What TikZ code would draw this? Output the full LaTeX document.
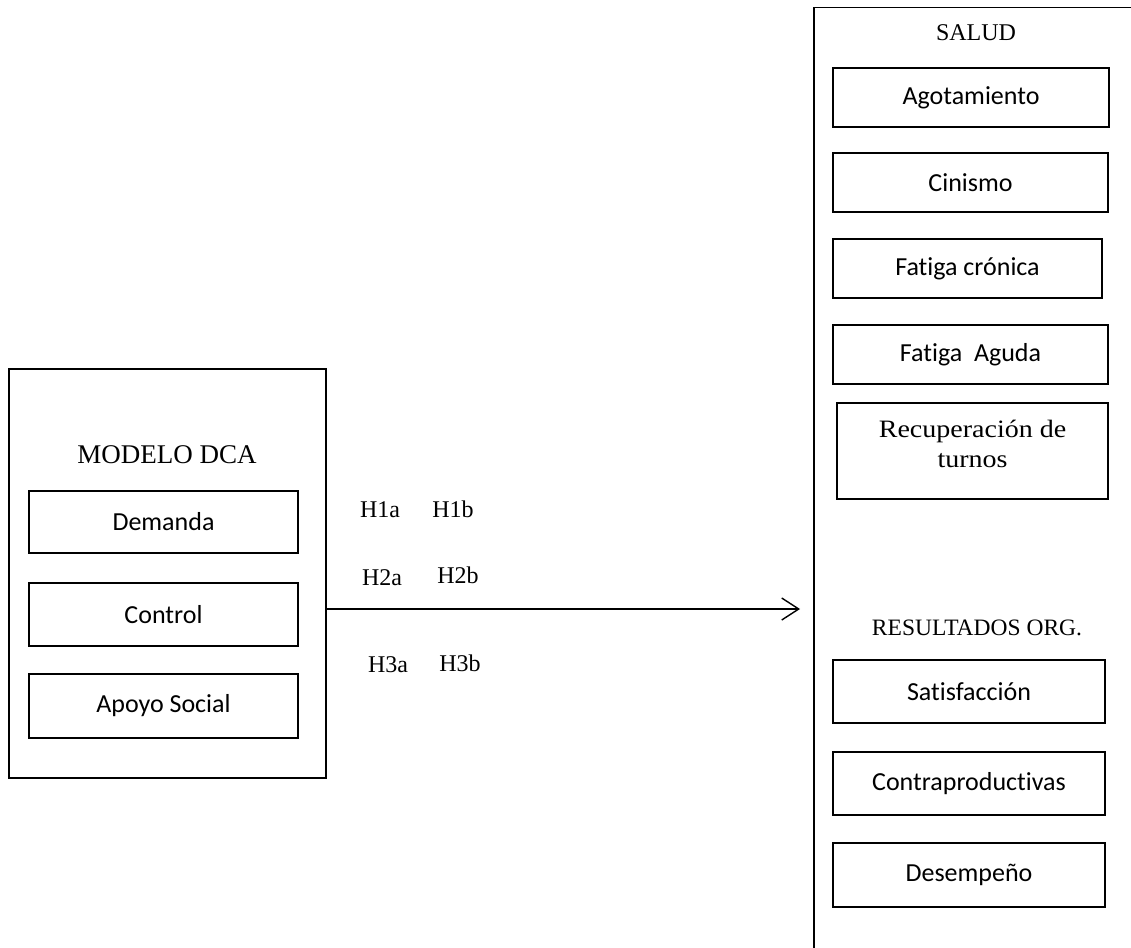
\documentclass[tikz,border=0pt]{standalone}
\usepackage{fontspec}
\setmainfont{Liberation Serif}
\newfontfamily\boxfont[Ligatures=NoCommon]{Carlito}
\newfontfamily\wideserif[FakeStretch=1.12]{Liberation Serif}
\usetikzlibrary{arrows.meta}

\begin{document}
\begin{tikzpicture}[x=1pt, y=-1pt,
  frame/.style={draw, line width=1.5pt, inner sep=0pt},
  item/.style={frame, font=\boxfont\fontsize{26}{30}\selectfont},
  heading/.style={inner sep=0pt},
  hyp/.style={inner sep=0pt, font=\fontsize{24}{28}\selectfont},
  link/.style={line width=1.4pt, -{Straight Barb[length=17pt, width=22pt, line width=1.4pt]}}
]
\clip (0,0) rectangle (1131,947);
\fill[white] (0,0) rectangle (1131,947);

% left block: the DCA model
\node[frame, minimum width=317pt, minimum height=409pt] (dca) at (167.5,573.5) {};
\node[heading, font=\fontsize{27}{32}\selectfont] (dcatitle) at (167,455) {MODELO DCA};
\node[item, minimum width=269pt, minimum height=62pt] (dem) at (163.5,522) {Demanda};
\node[item, minimum width=269pt, minimum height=63pt] (ctl) at (163.5,614.5) {Control};
\node[item, minimum width=269pt, minimum height=64pt] (apo) at (163.5,706) {Apoyo Social};

% right block: outcomes (runs past the page edge)
\node[frame, anchor=north west, minimum width=340pt, minimum height=960pt] (out) at (813,7) {};
\node[heading, font=\fontsize{24}{28}\selectfont] (salud) at (976,33) {SALUD};
\node[item, minimum width=276pt, minimum height=59pt] (ago) at (971,97.5) {Agotamiento};
\node[item, minimum width=275pt, minimum height=59pt] (cin) at (970.5,182.5) {Cinismo};
\node[item, minimum width=269pt, minimum height=59pt] (fcr) at (967.5,268.5) {Fatiga crónica};
\node[item, minimum width=275pt, minimum height=59pt] (fag) at (970.5,354.5) {Fatiga\ \ Aguda};
\node[frame, minimum width=271pt, minimum height=96pt] (rec) at (972.5,451) {};
\node[inner sep=0pt, align=center, font=\wideserif\fontsize{25}{30}\selectfont] (rectext)
  at ([yshift=7pt]rec.center) {Recuperación de\\turnos};
\node[heading, font=\fontsize{23.5}{28}\selectfont] (resorg) at (977,628) {RESULTADOS ORG.};
\node[item, minimum width=272pt, minimum height=63pt] (sat) at (969,691.5) {Satisfacción};
\node[item, minimum width=272pt, minimum height=63pt] (con) at (969,783.5) {Contraproductivas};
\node[item, minimum width=272pt, minimum height=64pt] (des) at (969,875) {Desempeño};

% hypotheses arrow and its labels
\coordinate (tip) at (800,609);
\draw[link] (dca.east |- tip) -- (tip);

\node[hyp] (h1a) at (380,510) {H1a};
\node[hyp] (h1b) at (453,509) {H1b};
\node[hyp] (h2a) at (382,578) {H2a};
\node[hyp] (h2b) at (458,575) {H2b};
\node[hyp] (h3a) at (388,665) {H3a};
\node[hyp] (h3b) at (460,663) {H3b};
\end{tikzpicture}
\end{document}
